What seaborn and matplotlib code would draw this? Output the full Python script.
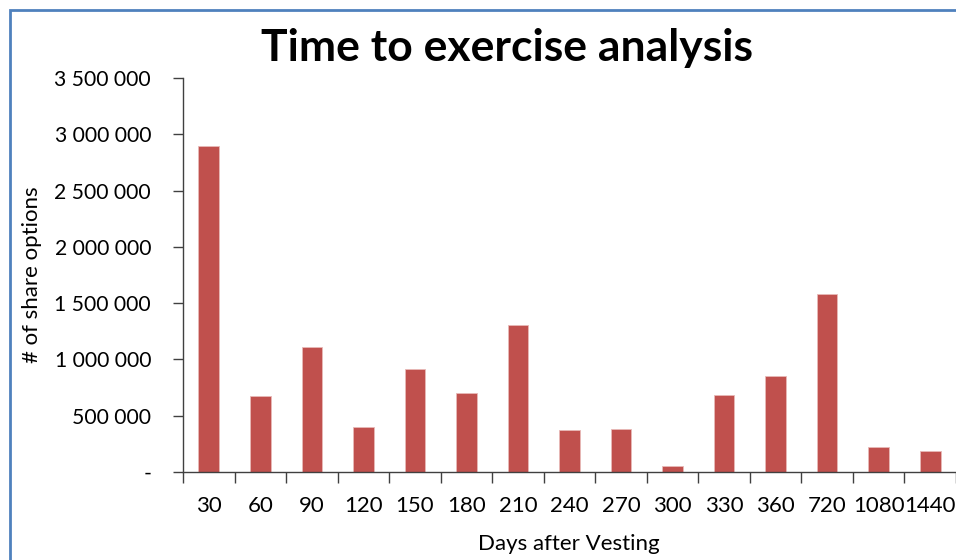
import matplotlib
matplotlib.use("Agg")
import matplotlib.pyplot as plt
import seaborn as sns
import pandas as pd
from matplotlib.patches import Rectangle
from matplotlib.ticker import FuncFormatter, FixedLocator

days = ["30", "60", "90", "120", "150", "180", "210", "240", "270", "300",
        "330", "360", "720", "1080", "1440"]
options = [2900000, 675000, 1110000, 400000, 915000, 700000, 1306000, 373000,
           382000, 53000, 684000, 853000, 1581000, 222000, 187000]
yticks = [0, 500000, 1000000, 1500000, 2000000, 2500000, 3000000, 3500000]

sns.set_style("white")
plt.rcParams["font.family"] = ["Lato", "DejaVu Sans"]
plt.rcParams["text.color"] = "black"
plt.rcParams["axes.labelcolor"] = "black"
plt.rcParams["xtick.color"] = "black"
plt.rcParams["ytick.color"] = "black"

df = pd.DataFrame({"days": days, "options": options})

fig = plt.figure(figsize=(9.56, 5.6), dpi=100)
ax = fig.add_axes([183/956, 1 - 472/560, 1 - 183/956, (472 - 78)/560])
sns.barplot(data=df, x="days", y="options", order=days, color="#C0504D",
            width=0.4, saturation=1, edgecolor="#E8B9B8", linewidth=0.6, ax=ax)

ax.set_xlim(-0.5, len(days) - 0.5)
ax.set_ylim(0, 3500000)
ax.set_yticks(yticks)

def fmt(v, pos):
    if v == 0:
        return "-"
    return f"{int(v):,}".replace(",", " ")

ax.yaxis.set_major_formatter(FuncFormatter(fmt))
ax.tick_params(axis="y", which="major", left=True, direction="out", length=7,
               width=1, color="#404040", labelsize=15.2, pad=16)
ax.xaxis.set_minor_locator(FixedLocator([i - 0.5 for i in range(len(days) + 1)]))
ax.tick_params(axis="x", which="major", bottom=True, length=0, labelsize=16, pad=17)
ax.tick_params(axis="x", which="minor", bottom=True, direction="out", length=8,
               width=1, color="#404040")

for s in ["top", "right"]:
    ax.spines[s].set_visible(False)
for s in ["left", "bottom"]:
    ax.spines[s].set_color("#404040")
    ax.spines[s].set_linewidth(1)

ax.set_xlabel("Days after Vesting", fontsize=16)
ax.set_ylabel("# of share options", fontsize=16)
ax.yaxis.set_label_coords(-141/773, 0.5)
ax.xaxis.set_label_coords((569 - 183)/773, -62/394)

fig.text(507/956, 1 - 48/560, "Time to exercise analysis", fontsize=32,
         fontweight="bold", ha="center", va="center", color="black")

fig.patches.append(Rectangle((10/956, -0.2), 1.5, 1 - 10/560 + 0.2,
                             transform=fig.transFigure, fill=False,
                             edgecolor="#4F81BD", linewidth=2))

fig.savefig("out.png", dpi=100)
